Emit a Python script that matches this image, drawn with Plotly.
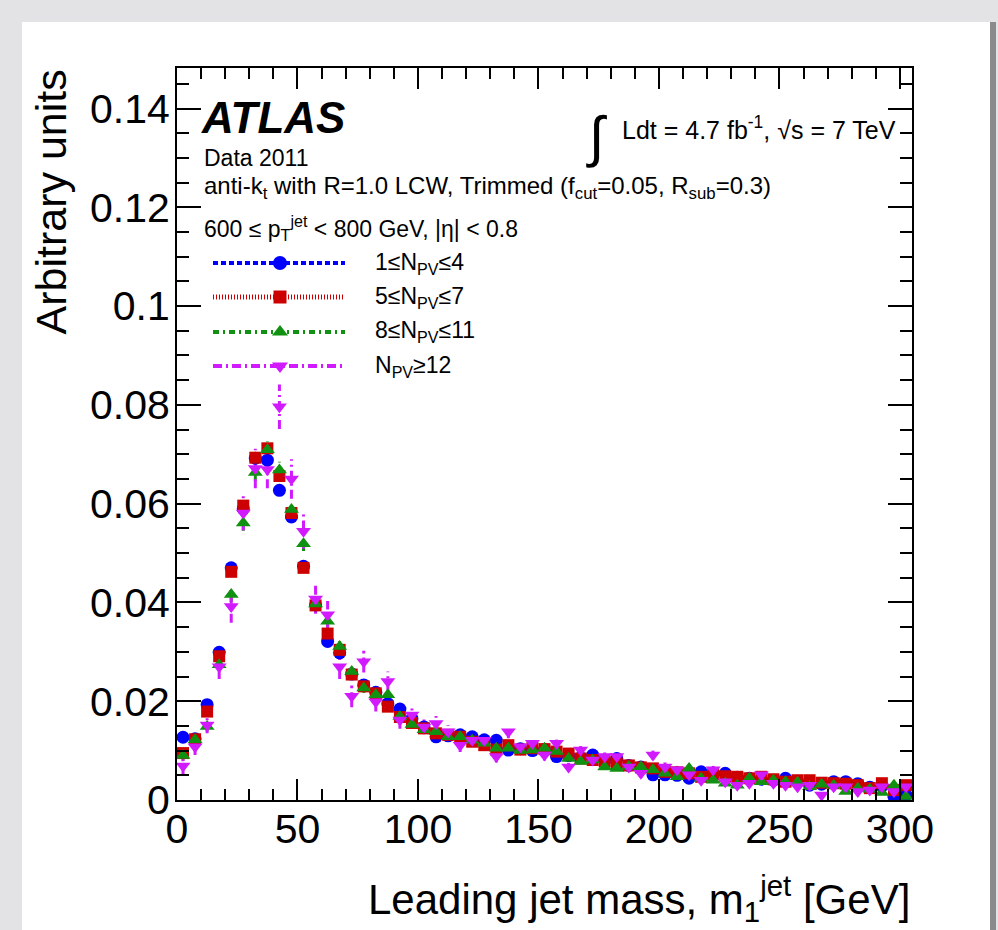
import plotly.graph_objects as go

# ---------------- data ----------------
bin_centers = [2.5 + 5 * i for i in range(61)]

npv_1_4 = [0.0127, 0.0124, 0.0193, 0.0299, 0.0470, 0.0590, 0.0692, 0.0688, 0.0627, 0.0573,
           0.0473, 0.0395, 0.0321, 0.0298, 0.0255, 0.0233, 0.0218, 0.0195, 0.0184, 0.0165,
           0.0148, 0.0128, 0.0130, 0.0132, 0.0128, 0.0122, 0.0121, 0.0101, 0.0104, 0.0100,
           0.0102, 0.0088, 0.0090, 0.0086, 0.0091, 0.0080, 0.0084, 0.0070, 0.0067, 0.0051,
           0.0051, 0.0050, 0.0044, 0.0057, 0.0054, 0.0054, 0.0046, 0.0044, 0.0042, 0.0040,
           0.0044, 0.0038, 0.0030, 0.0032, 0.0037, 0.0037, 0.0033, 0.0026, 0.0028, 0.0007,
           0.0010]
npv_5_7 = [0.0095, 0.0123, 0.0179, 0.0291, 0.0462, 0.0596, 0.0693, 0.0712, 0.0656, 0.0581,
           0.0470, 0.0394, 0.0337, 0.0304, 0.0254, 0.0230, 0.0216, 0.0189, 0.0168, 0.0156,
           0.0145, 0.0135, 0.0132, 0.0128, 0.0118, 0.0111, 0.0102, 0.0111, 0.0102, 0.0105,
           0.0103, 0.0098, 0.0094, 0.0084, 0.0081, 0.0078, 0.0074, 0.0070, 0.0066, 0.0064,
           0.0057, 0.0056, 0.0054, 0.0047, 0.0052, 0.0048, 0.0047, 0.0044, 0.0047, 0.0042,
           0.0037, 0.0040, 0.0040, 0.0035, 0.0034, 0.0033, 0.0030, 0.0024, 0.0034, 0.0020,
           0.0030]
npv_8_11 = [0.0090, 0.0122, 0.0149, 0.0274, 0.0416, 0.0561, 0.0663, 0.0709, 0.0668, 0.0588,
            0.0519, 0.0397, 0.0362, 0.0311, 0.0260, 0.0227, 0.0213, 0.0213, 0.0169, 0.0153,
            0.0142, 0.0138, 0.0128, 0.0128, 0.0121, 0.0115, 0.0105, 0.0105, 0.0100, 0.0101,
            0.0105, 0.0098, 0.0084, 0.0078, 0.0081, 0.0067, 0.0064, 0.0068, 0.0067, 0.0061,
            0.0054, 0.0047, 0.0064, 0.0044, 0.0040, 0.0034, 0.0030, 0.0044, 0.0037, 0.0040,
            0.0037, 0.0036, 0.0027, 0.0032, 0.0030, 0.0017, 0.0024, 0.0022, 0.0015, 0.0030,
            0.0007]
npv_12 = [0.0069, 0.0108, 0.0152, 0.0270, 0.0392, 0.0581, 0.0671, 0.0669, 0.0796, 0.0650,
          0.0544, 0.0407, 0.0375, 0.0270, 0.0210, 0.0280, 0.0199, 0.0240, 0.0162, 0.0172,
          0.0148, 0.0155, 0.0138, 0.0111, 0.0121, 0.0121, 0.0088, 0.0138, 0.0108, 0.0115,
          0.0091, 0.0115, 0.0067, 0.0101, 0.0081, 0.0088, 0.0088, 0.0067, 0.0054, 0.0091,
          0.0067, 0.0061, 0.0051, 0.0040, 0.0061, 0.0037, 0.0030, 0.0034, 0.0051, 0.0034,
          0.0030, 0.0027, 0.0030, 0.0010, 0.0027, 0.0027, 0.0017, 0.0020, 0.0027, 0.0017,
          0.0027]
err_npv_12 = [0.0017, 0.0017, 0.0017, 0.0025, 0.0033, 0.0035, 0.0040, 0.0038, 0.0045, 0.0040,
              0.0035, 0.0030, 0.0028, 0.0025, 0.0022, 0.0022, 0.0020, 0.0020, 0.0018, 0.0017,
              0.0015, 0.0015, 0.0014, 0.0014, 0.0013, 0.0013, 0.0012, 0.0013, 0.0012, 0.0012,
              0.0011, 0.0011, 0.0010, 0.0010, 0.0010, 0.0010, 0.0010, 0.0009, 0.0009, 0.0009,
              0.0009, 0.0008, 0.0008, 0.0008, 0.0008, 0.0008, 0.0007, 0.0007, 0.0007, 0.0007,
              0.0007, 0.0006, 0.0006, 0.0006, 0.0006, 0.0006, 0.0006, 0.0006, 0.0006, 0.0006,
              0.0006]
err_npv_8_11 = [0.0010, 0.0010, 0.0010, 0.0012, 0.0015, 0.0016, 0.0017, 0.0017, 0.0017, 0.0016,
                0.0015, 0.0013, 0.0012, 0.0011, 0.0010, 0.0010, 0.0009, 0.0009, 0.0008, 0.0008,
                0.0007, 0.0007, 0.0007, 0.0007, 0.0006, 0.0006, 0.0006, 0.0006, 0.0006, 0.0006,
                0.0005, 0.0005, 0.0005, 0.0005, 0.0005, 0.0005, 0.0005, 0.0005, 0.0004, 0.0004,
                0.0004, 0.0004, 0.0004, 0.0004, 0.0004, 0.0004, 0.0004, 0.0004, 0.0004, 0.0004,
                0.0004, 0.0004, 0.0003, 0.0003, 0.0003, 0.0003, 0.0003, 0.0003, 0.0003, 0.0003,
                0.0003]

labels = ["1≤N<sub>PV</sub>≤4", "5≤N<sub>PV</sub>≤7", "8≤N<sub>PV</sub>≤11", "N<sub>PV</sub>≥12"]
x_ticks = [0, 50, 100, 150, 200, 250, 300]
y_ticks = [0, 0.02, 0.04, 0.06, 0.08, 0.1, 0.12, 0.14]
y_ticktext = ["0", "0.02", "0.04", "0.06", "0.08", "0.1", "0.12", "0.14"]

# ---------------- styles ----------------
FONT = "Liberation Sans, Arial, Helvetica, sans-serif"
W, H = 998, 930
L, R, T, B = 177, 912, 68, 800  # plot area in pixels

series = [
    dict(y=npv_1_4, err=None, color="#0000ff", symbol="circle", size=13,
         dash="5px,3px", lw=4),
    dict(y=npv_5_7, err=None, color="#cc0000", symbol="square", size=12,
         dash="1px,2px", lw=5),
    dict(y=npv_8_11, err=err_npv_8_11, color="#119111", symbol="triangle-up", size=13,
         dash="6px,4px,2px,4px", lw=4),
    dict(y=npv_12, err=err_npv_12, color="#d21aff", symbol="triangle-down", size=13,
         dash="9px,4px,2px,4px", lw=4),
]


def px_x(p):
    return (p - L) / (R - L)


def px_y(p):
    return (B - p) / (B - T)


fig = go.Figure()

# error bars (drawn as dashed line segments, like the ROOT line styles)
for s in series:
    if s["err"] is None:
        continue
    ex, ey = [], []
    for c, v, e in zip(bin_centers, s["y"], s["err"]):
        ex += [c, c, None]
        ey += [v - e, v + e, None]
    fig.add_trace(go.Scatter(x=ex, y=ey, mode="lines", showlegend=False, hoverinfo="skip",
                             line=dict(color=s["color"], width=3, dash=s["dash"])))

for s, lab in zip(series, labels):
    fig.add_trace(go.Scatter(x=bin_centers, y=s["y"], mode="markers", name=lab, showlegend=False,
                             marker=dict(color=s["color"], symbol=s["symbol"], size=s["size"],
                                         line=dict(width=0))))

# manual legend on an overlay axis (0..1 in both directions)
leg_rows_px = [263, 297, 332, 366]
for s, lab, ry in zip(series, labels, leg_rows_px):
    yy = px_y(ry)
    fig.add_trace(go.Scatter(x=[px_x(213), px_x(345)], y=[yy, yy], mode="lines",
                             xaxis="x2", yaxis="y2", showlegend=False, hoverinfo="skip",
                             line=dict(color=s["color"], width=s["lw"], dash=s["dash"])))
    fig.add_trace(go.Scatter(x=[px_x(280)], y=[yy], mode="markers",
                             xaxis="x2", yaxis="y2", showlegend=False, hoverinfo="skip",
                             marker=dict(color=s["color"], symbol=s["symbol"], size=s["size"] + 1)))

ann = []


def add_text(text, x_px, y_px, size, xanchor="left", yanchor="middle", **kw):
    ann.append(dict(text=text, x=px_x(x_px), y=px_y(y_px), xref="paper", yref="paper",
                    xanchor=xanchor, yanchor=yanchor, showarrow=False,
                    font=dict(family=FONT, size=size, color="black"), **kw))


add_text("<b><i>ATLAS</i></b>", 199, 117, 44)
add_text("Data 2011", 202, 158, 23)
add_text("anti-k<sub>t</sub> with R=1.0 LCW, Trimmed (f<sub>cut</sub>=0.05, R<sub>sub</sub>=0.3)",
         202, 188, 24)
add_text("600 ≤ p<sub>T</sub><sup>jet</sup> < 800 GeV, |η| < 0.8", 202, 228, 23)
add_text("∫", 596, 136, 56, xanchor="center")
add_text("Ldt = 4.7 fb<sup>-1</sup>, √s = 7 TeV", 898, 128, 25, xanchor="right")
for lab, ry in zip(labels, leg_rows_px):
    add_text(lab, 373, ry, 23)

# axis titles
add_text("Arbitrary units", 50, T, 43, xanchor="center", yanchor="top", textangle=-90)
add_text("Leading jet mass, m<sub>1</sub><sup>jet</sup> [GeV]", R, 898, 42, xanchor="right")

# background card
shapes = [
    dict(type="rect", xref="paper", yref="paper", x0=px_x(22), x1=px_x(990), y0=px_y(935),
         y1=px_y(22), fillcolor="white", line=dict(width=0), layer="below"),
    dict(type="rect", xref="paper", yref="paper", x0=px_x(990), x1=px_x(996), y0=px_y(935),
         y1=px_y(22), fillcolor="#8a8a8c", line=dict(width=0), layer="below"),
]

axis_common = dict(showgrid=False, zeroline=False, showline=True, linecolor="black", linewidth=2,
                   mirror="ticks", ticks="inside", tickcolor="black", tickwidth=1.5,
                   tickfont=dict(family=FONT, size=41, color="black"))

fig.update_layout(
    width=W, height=H,
    margin=dict(l=L, r=W - R, t=T, b=H - B),
    paper_bgcolor="#e3e3e5", plot_bgcolor="white",
    showlegend=False,
    annotations=ann, shapes=shapes,
    xaxis=dict(range=[0, 305], tickvals=x_ticks, ticklen=21, ticklabelstandoff=-8,
               minor=dict(dtick=10, tick0=0, ticklen=11, ticks="inside", tickcolor="black",
                          tickwidth=1.5, showgrid=False),
               **axis_common),
    yaxis=dict(range=[0, 0.1482], tickvals=y_ticks, ticktext=y_ticktext, ticklen=24,
               ticklabelstandoff=-3,
               minor=dict(dtick=0.005, tick0=0, ticklen=12, ticks="inside", tickcolor="black",
                          tickwidth=1.5, showgrid=False),
               **axis_common),
    xaxis2=dict(range=[0, 1], overlaying="x", visible=False, fixedrange=True),
    yaxis2=dict(range=[0, 1], overlaying="y", visible=False, fixedrange=True),
)

fig.write_html("out.html", config={"displayModeBar": False},
               post_script="document.body.style.margin='0px';document.body.style.overflow='hidden';")
